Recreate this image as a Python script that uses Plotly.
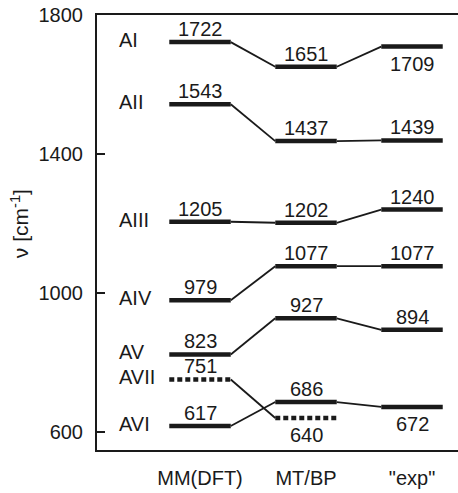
import plotly.graph_objects as go

# ---- data ----
methods = ["MM(DFT)", "MT/BP", "\"exp\""]
modes = ["AI", "AII", "AIII", "AIV", "AV", "AVII", "AVI"]
mm_dft = [1722, 1543, 1205, 979, 823, 751, 617]
mt_bp = [1651, 1437, 1202, 1077, 927, 640, 686]
exp_vals = [1709, 1439, 1240, 1077, 894, None, 672]
# label placement: True = above bar, False = below bar
mm_above = [True, True, True, True, True, True, True]
mt_above = [True, True, True, True, True, False, True]
exp_above = [False, True, True, True, True, None, False]
dashed_modes = ["AVII"]
y_ticks = [600, 1000, 1400, 1800]

FONT = "Liberation Sans, Arial, sans-serif"
FS = 20
HW = 0.29  # half bar width in category units

series = [mm_dft, mt_bp, exp_vals]
above = [mm_above, mt_above, exp_above]

fig = go.Figure()

# connecting lines
for i, m in enumerate(modes):
    for c in range(len(methods) - 1):
        v0, v1 = series[c][i], series[c + 1][i]
        if v0 is None or v1 is None:
            continue
        fig.add_trace(go.Scatter(x=[c + HW, c + 1 - HW], y=[v0, v1], mode="lines",
                                 line=dict(color="#1a1a1a", width=1.8),
                                 hoverinfo="skip", showlegend=False))

# level bars
for i, m in enumerate(modes):
    dash = "5px,3px" if m in dashed_modes else "solid"
    for c in range(len(methods)):
        v = series[c][i]
        if v is None:
            continue
        fig.add_trace(go.Scatter(x=[c - HW, c + HW], y=[v, v], mode="lines",
                                 line=dict(color="#1a1a1a", width=4.5, dash=dash),
                                 hoverinfo="skip", showlegend=False))

annotations = []
# value labels
for c in range(len(methods)):
    for i, m in enumerate(modes):
        v = series[c][i]
        if v is None:
            continue
        if above[c][i]:
            annotations.append(dict(x=c, y=v, text=str(v), showarrow=False,
                                    xanchor="center", yanchor="bottom", yshift=0,
                                    font=dict(size=FS, color="#1a1a1a", family=FONT)))
        else:
            annotations.append(dict(x=c, y=v, text=str(v), showarrow=False,
                                    xanchor="center", yanchor="top", yshift=-4,
                                    font=dict(size=FS, color="#1a1a1a", family=FONT)))

# mode labels
for i, m in enumerate(modes):
    annotations.append(dict(x=-0.785, y=mm_dft[i], text=m, showarrow=False,
                            xanchor="left", yanchor="middle", yshift=2,
                            font=dict(size=FS, color="#1a1a1a", family=FONT)))

# y axis title
annotations.append(dict(xref="paper", yref="paper", x=-0.215, y=0.52,
                        text="ν [cm<sup>-1</sup>]", textangle=-90, showarrow=False,
                        xanchor="center", yanchor="middle",
                        font=dict(size=21, color="#1a1a1a", family=FONT)))

fig.update_layout(
    width=458, height=493,
    margin=dict(l=97, r=0, t=15, b=43),
    paper_bgcolor="white", plot_bgcolor="white",
    font=dict(family=FONT, size=FS, color="#1a1a1a"),
    annotations=annotations,
    xaxis=dict(range=[-0.972, 2.434], tickvals=[0, 1, 2], ticktext=methods,
               showline=True, linecolor="#1a1a1a", linewidth=2, mirror=True,
               showgrid=False, zeroline=False, ticks="", ticklabelstandoff=9,
               tickfont=dict(size=FS, family=FONT, color="#1a1a1a")),
    yaxis=dict(range=[548, 1800], tickvals=y_ticks,
               showline=True, linecolor="#1a1a1a", linewidth=2,
               showgrid=False, zeroline=False, ticks="inside", ticklen=8,
               tickwidth=2, tickcolor="#1a1a1a", ticklabelstandoff=8,
               tickfont=dict(size=FS, family=FONT, color="#1a1a1a")),
)

fig.write_html("out.html", config={"displayModeBar": False},
               post_script="document.body.style.margin='0';document.body.style.overflow='hidden';")
